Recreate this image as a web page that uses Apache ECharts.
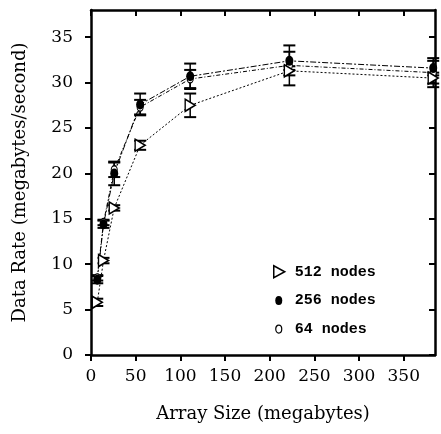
<!DOCTYPE html>
<html>
<head>
<meta charset="utf-8">
<script src="https://cdn.jsdelivr.net/npm/echarts@6/dist/echarts.min.js"></script>
<style>
html,body{margin:0;padding:0;background:#fff;}
#c{width:441px;height:434px;}
</style>
</head>
<body>
<div id="c"></div>
<script>
// Data
const arraySizes = [7, 14, 26, 55, 111, 222, 383];
const rate512 = [5.8, 10.4, 16.2, 23.1, 27.5, 31.3, 30.5];
const err512  = [0.4, 0.3, 0.3, 0.5, 1.3, 0.5, 0.6];
const rate256 = [8.3, 14.4, 20.0, 27.6, 30.7, 32.4, 31.6];
const err256  = [0.4, 0.4, 1.3, 1.2, 1.4, 1.0, 0.8];
const rate64  = [8.5, 14.6, 20.4, 27.3, 30.4, 31.9, 31.1];
const err64   = [0.3, 0.3, 0.8, 0.8, 1.0, 2.2, 1.6];
const xTicks = [0, 50, 100, 150, 200, 250, 300, 350];
const yTicks = [0, 5, 10, 15, 20, 25, 30, 35];
const seriesNames = ['512 nodes', '256 nodes', '64 nodes'];

const FONT = 'DejaVu Serif';
const triPath = 'path://M0,0 L10,6 L0,12 Z';
const legTri = 'path://M0,0 M14,14 M2,1 L13,7 L2,13 Z';
const legDot = 'path://M0,0 M14,14 M3.5,7 A3.5,4.5 0 1,1 10.5,7 A3.5,4.5 0 1,1 3.5,7 Z';
const legRing = 'path://M0,0 M14,14 M4,7 A3,4 0 1,1 10,7 A3,4 0 1,1 4,7 Z';

function pts(ys) { return arraySizes.map((x, i) => [x, ys[i]]); }
function errData(ys, es) { return arraySizes.map((x, i) => [x, ys[i] - es[i], ys[i] + es[i]]); }

function errSeries(name, ys, es) {
  return {
    name: name, type: 'custom', z: 2, silent: true,
    data: errData(ys, es),
    renderItem: function (params, api) {
      const lo = api.coord([api.value(0), api.value(1)]);
      const hi = api.coord([api.value(0), api.value(2)]);
      const w = 6;
      const st = { stroke: '#000', lineWidth: 2 };
      return {
        type: 'group',
        children: [
          { type: 'line', shape: { x1: lo[0], y1: lo[1], x2: hi[0], y2: hi[1] }, style: { stroke: '#000', lineWidth: 1.5 } },
          { type: 'line', shape: { x1: lo[0] - w, y1: lo[1], x2: lo[0] + w, y2: lo[1] }, style: st },
          { type: 'line', shape: { x1: hi[0] - w, y1: hi[1], x2: hi[0] + w, y2: hi[1] }, style: st }
        ]
      };
    }
  };
}

const axisCommonX = { type: 'value', min: 0, max: 385, interval: 50, splitLine: { show: false } };
const axisCommonY = { type: 'value', min: 0, max: 38, interval: 5, splitLine: { show: false } };
const lineSty = { show: true, lineStyle: { color: '#000', width: 2.5 }, onZero: false };

const option = {
  animation: false,
  backgroundColor: '#fff',
  grid: { left: 91, right: 6, top: 10, bottom: 79 },
  xAxis: [
    Object.assign({}, axisCommonX, {
      position: 'bottom',
      axisLine: lineSty,
      axisTick: { show: true, inside: false, length: 6, lineStyle: { color: '#000', width: 2 }, customValues: xTicks },
      axisLabel: { color: '#000', fontFamily: FONT, fontSize: 17, margin: 13, customValues: xTicks },
      name: 'Array Size (megabytes)', nameLocation: 'middle', nameGap: 50,
      nameTextStyle: { color: '#000', fontFamily: FONT, fontSize: 18 }
    }),
    Object.assign({}, axisCommonX, {
      position: 'top',
      axisLine: lineSty,
      axisTick: { show: true, inside: true, length: 6, lineStyle: { color: '#000', width: 2 }, customValues: xTicks },
      axisLabel: { show: false }
    })
  ],
  yAxis: [
    Object.assign({}, axisCommonY, {
      position: 'left',
      axisLine: lineSty,
      axisTick: { show: true, inside: false, length: 6, lineStyle: { color: '#000', width: 2 }, customValues: yTicks },
      axisLabel: { color: '#000', fontFamily: FONT, fontSize: 17, margin: 18, customValues: yTicks },
      name: 'Data Rate (megabytes/second)', nameLocation: 'middle', nameGap: 62,
      nameTextStyle: { color: '#000', fontFamily: FONT, fontSize: 18 }
    }),
    Object.assign({}, axisCommonY, {
      position: 'right',
      axisLine: lineSty,
      axisTick: { show: true, inside: true, length: 6, lineStyle: { color: '#000', width: 2 }, customValues: yTicks },
      axisLabel: { show: false }
    })
  ],
  legend: {
    orient: 'vertical', left: 266, top: 259, itemGap: 13.5, itemWidth: 14, itemHeight: 14,
    textStyle: { color: '#000', fontFamily: 'Liberation Mono', fontWeight: 'bold', fontSize: 15, padding: [0, 0, 0, 4] },
    selectedMode: false,
    data: [
      { name: seriesNames[0], icon: legTri, itemStyle: { color: '#fff', borderColor: '#000', borderWidth: 1.5 } },
      { name: seriesNames[1], icon: legDot, itemStyle: { color: '#000', borderColor: '#000', borderWidth: 0 } },
      { name: seriesNames[2], icon: legRing, itemStyle: { color: '#fff', borderColor: '#000', borderWidth: 1.2 } }
    ]
  },
  series: [
    errSeries(seriesNames[2], rate64, err64),
    errSeries(seriesNames[0], rate512, err512),
    errSeries(seriesNames[1], rate256, err256),
    {
      name: seriesNames[2], type: 'line', z: 3, data: pts(rate64),
      symbol: 'circle', symbolSize: [6, 8],
      itemStyle: { color: '#fff', borderColor: '#000', borderWidth: 1.2 },
      lineStyle: { color: '#000', width: 1, type: [4, 2, 1, 2] }
    },
    {
      name: seriesNames[0], type: 'line', z: 3, data: pts(rate512),
      symbol: triPath, symbolSize: [10, 12],
      itemStyle: { color: '#fff', borderColor: '#000', borderWidth: 1.5 },
      lineStyle: { color: '#000', width: 1, type: [2, 2] }
    },
    {
      name: seriesNames[1], type: 'line', z: 3, data: pts(rate256),
      symbol: 'circle', symbolSize: [8, 10],
      itemStyle: { color: '#000', borderColor: '#000', borderWidth: 0 },
      lineStyle: { color: '#000', width: 1, type: [6, 2, 2, 2] }
    }
  ]
};

const chart = echarts.init(document.getElementById('c'), null, { renderer: 'canvas' });
chart.setOption(option);
</script>
</body>
</html>
